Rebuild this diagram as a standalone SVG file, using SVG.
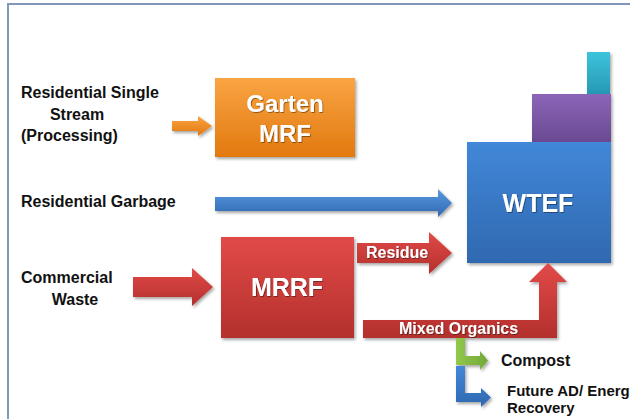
<svg xmlns="http://www.w3.org/2000/svg" width="630" height="419" viewBox="0 0 630 419">
<defs>
<linearGradient id="gOrange" x1="0" y1="0" x2="0" y2="1"><stop offset="0" stop-color="#f9a443"/><stop offset="1" stop-color="#e2790f"/></linearGradient>
<linearGradient id="gRed" x1="0" y1="0" x2="0" y2="1"><stop offset="0" stop-color="#e24a48"/><stop offset="1" stop-color="#b3302d"/></linearGradient>
<linearGradient id="gBlue" x1="0" y1="0" x2="0" y2="1"><stop offset="0" stop-color="#4288d8"/><stop offset="1" stop-color="#2f68b0"/></linearGradient>
<linearGradient id="gPurple" x1="0" y1="0" x2="0" y2="1"><stop offset="0" stop-color="#8c65b8"/><stop offset="1" stop-color="#6a4a92"/></linearGradient>
<linearGradient id="gCyan" x1="0" y1="0" x2="0" y2="1"><stop offset="0" stop-color="#3dc4dc"/><stop offset="1" stop-color="#2798b4"/></linearGradient>
<linearGradient id="gGreen" x1="0" y1="0" x2="1" y2="0"><stop offset="0" stop-color="#92c84c"/><stop offset="1" stop-color="#72a838"/></linearGradient>
<linearGradient id="gBlueArr" x1="0" y1="0" x2="0" y2="1"><stop offset="0" stop-color="#5a9ae0"/><stop offset="1" stop-color="#2f68b0"/></linearGradient>
<filter id="sh" x="-10%" y="-10%" width="130%" height="130%"><feDropShadow dx="1.5" dy="2" stdDeviation="1.5" flood-color="#000" flood-opacity="0.35"/></filter>
<filter id="tsh" x="-10%" y="-20%" width="130%" height="150%"><feDropShadow dx="0.8" dy="0.8" stdDeviation="0.6" flood-color="#000" flood-opacity="0.5"/></filter>
</defs>
<style>
.lbl{font-family:"Liberation Sans",Arial,sans-serif;font-weight:bold;fill:#111;font-size:16px}
.sm{font-size:15px}
.wt{font-family:"Liberation Sans",Arial,sans-serif;font-weight:bold;fill:#fff;filter:url(#tsh)}
.big{font-size:25px}
.mid{font-size:16px}
.box{filter:url(#sh)}
</style>
<path d="M8,419 V4 H630" fill="none" stroke="#7f98ba" stroke-width="2"/>

<g id="node-residential-single-stream">
<text class="lbl" x="21" y="98">Residential Single</text>
<text class="lbl" x="77" y="120" text-anchor="middle">Stream</text>
<text class="lbl" x="21" y="141">(Processing)</text>
</g>
<g id="node-garten-mrf">
<rect class="box" x="215" y="78" width="140" height="79" fill="url(#gOrange)"/>
<text class="wt" x="285" y="112" text-anchor="middle" font-size="24">Garten</text>
<text class="wt" x="285" y="142" text-anchor="middle" font-size="24">MRF</text>
</g>
<g id="node-residential-garbage">
<text class="lbl" x="21" y="207">Residential Garbage</text>
</g>
<g id="node-commercial-waste">
<text class="lbl" x="21" y="283">Commercial</text>
<text class="lbl" x="75" y="305" text-anchor="middle">Waste</text>
</g>
<g id="node-mrrf">
<rect class="box" x="221" y="237" width="133" height="101" fill="url(#gRed)"/>
<text class="wt big" x="287" y="296" text-anchor="middle">MRRF</text>
</g>
<g id="node-wtef">
<rect class="box" x="587" y="52" width="23" height="42" fill="url(#gCyan)"/>
<rect class="box" x="532" y="94" width="79" height="48" fill="url(#gPurple)"/>
<rect class="box" x="467" y="142" width="144" height="121" fill="url(#gBlue)"/>
<text class="wt big" x="538" y="212" text-anchor="middle">WTEF</text>
</g>
<g id="node-compost">
<text class="lbl" x="501" y="366">Compost</text>
</g>
<g id="node-future-ad">
<text class="lbl sm" x="507" y="396">Future AD/ Energy</text>
<text class="lbl sm" x="507" y="413">Recovery</text>
</g>

<g id="connectors">
<polygon class="box" points="172,121 198,121 198,116 212,126 198,136 198,131 172,131" fill="url(#gOrange)"/>
<polygon class="box" points="215,197 438,197 438,189 452,203 438,217 438,211 215,211" fill="url(#gBlueArr)"/>
<polygon class="box" points="133,277 192,277 192,268 213,287 192,306 192,297 133,297" fill="url(#gRed)"/>
<polygon class="box" points="357,243 429,243 429,232 452,253 429,274 429,263 357,263" fill="url(#gRed)"/>
<text class="wt mid" x="366" y="258">Residue</text>
<polygon class="box" points="363,320 539,320 539,282 529,282 548,263 567,282 557,282 557,338 363,338" fill="url(#gRed)"/>
<text class="wt mid" x="399" y="334">Mixed Organics</text>
<polygon class="box" points="456,338 465,338 465,356 480,356 480,351 488,360.5 480,370 480,365 456,365" fill="url(#gGreen)"/>
<polygon class="box" points="456,366 465,366 465,393 481,393 481,388 491,397.5 481,407 481,402 456,402" fill="url(#gBlue)"/>
</g>
</svg>
